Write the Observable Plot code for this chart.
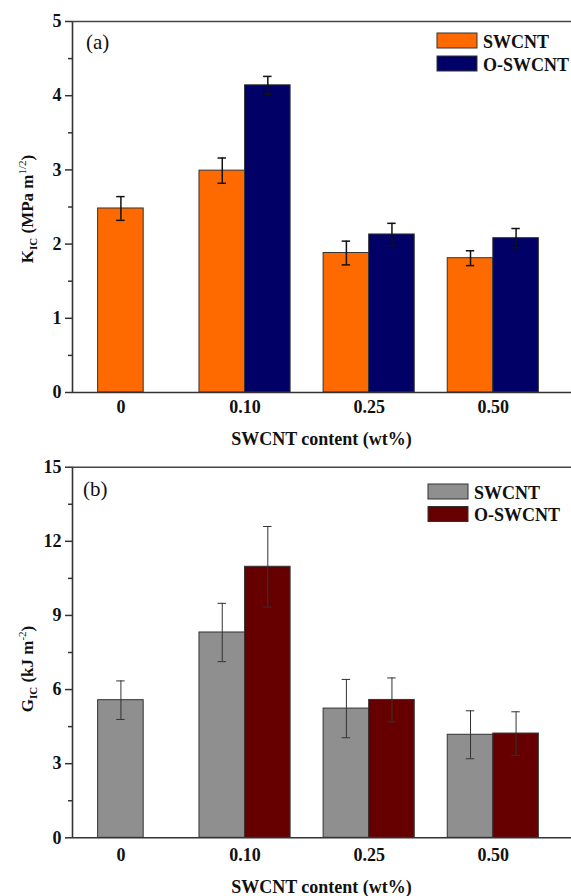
<!DOCTYPE html>
<html>
<head>
<meta charset="utf-8">
<script src="https://cdn.jsdelivr.net/npm/d3@7"></script>
<script src="https://cdn.jsdelivr.net/npm/@observablehq/plot@0.6"></script>
<style>
  html, body { margin: 0; padding: 0; background: #fff; }
  #chart svg { display: block; }
  #chart svg, #chart svg text { font-family: "Liberation Serif", "Times New Roman", Times, serif !important; }
</style>
</head>
<body>
<div id="chart"></div>
<script>
// ---- data ----
const categories = ["0", "0.10", "0.25", "0.50"];
const seriesNames = ["SWCNT", "O-SWCNT"];

// Panel (a): fracture toughness K_IC (MPa m^1/2)
const kSWCNT = [2.48, 2.99, 1.88, 1.81];
const kSWCNTErr = [0.16, 0.17, 0.16, 0.10];
const kOSWCNT = [null, 4.14, 2.13, 2.08];
const kOSWCNTErr = [null, 0.12, 0.15, 0.13];

// Panel (b): fracture energy G_IC (kJ m^-2)
const gSWCNT = [5.57, 8.31, 5.23, 4.17];
const gSWCNTErr = [0.78, 1.18, 1.18, 0.97];
const gOSWCNT = [null, 10.97, 5.58, 4.22];
const gOSWCNTErr = [null, 1.63, 0.89, 0.88];

const kTicks = [0, 1, 2, 3, 4, 5];
const gTicks = [0, 3, 6, 9, 12, 15];

const colorsA = ["#ff6a00", "#000066"];
const colorsB = ["#8f8f8f", "#660000"];

// ---- layout ----
const W = 571;
const xDomain = [-0.39, 3.63];
const barW = 0.367;     // bar width in category-index units
const capW = 0.034;     // half cap width in index units
const FONT = '"Liberation Serif", "Times New Roman", Times, serif';

function rows(sw, swErr, os, osErr) {
  const out = [];
  categories.forEach((c, i) => {
    const both = os[i] != null;
    if (both) {
      out.push({cat: c, s: seriesNames[0], v: sw[i], e: swErr[i], x1: i - barW, x2: i});
      out.push({cat: c, s: seriesNames[1], v: os[i], e: osErr[i], x1: i, x2: i + barW});
    } else {
      out.push({cat: c, s: seriesNames[0], v: sw[i], e: swErr[i], x1: i - barW / 2, x2: i + barW / 2});
    }
  });
  out.forEach(d => { d.xc = (d.x1 + d.x2) / 2; d.lo = d.v - d.e; d.hi = d.v + d.e; });
  return out;
}

function panel({data, colors, ticks, height, marginTop, marginBottom, errStroke, errWidth, xPad,
                tag, tagX, tagY, legX, legY, legGap, yLabel, yLabelY, xTitleY}) {
  const yMax = ticks[ticks.length - 1];
  const step = ticks[1] - ticks[0];
  const minor = ticks.slice(0, -1).map(t => t + step / 2);
  const svg = Plot.plot({
    width: W, height, marginLeft: 72, marginRight: 0, marginTop, marginBottom,
    style: {fontFamily: FONT, fontSize: "18px", fontWeight: "bold", background: "#fff", color: "#111"},
    x: {domain: xDomain},
    y: {domain: [0, yMax]},
    color: {domain: seriesNames, range: colors},
    marks: [
      Plot.rectY(data, {x1: "x1", x2: "x2", y1: 0, y2: "v", fill: "s", stroke: "#333", strokeWidth: 1}),
      Plot.ruleX(data, {x: "xc", y1: "lo", y2: "hi", stroke: errStroke, strokeWidth: errWidth}),
      Plot.ruleY(data, {y: "hi", x1: d => d.xc - capW, x2: d => d.xc + capW, stroke: errStroke, strokeWidth: errWidth}),
      Plot.ruleY(data, {y: "lo", x1: d => d.xc - capW, x2: d => d.xc + capW, stroke: errStroke, strokeWidth: errWidth}),
      Plot.axisY(ticks, {tickSize: 7, tickPadding: 4, tickFormat: d3.format("d"), label: null, stroke: "#333", strokeWidth: 1.5}),
      Plot.axisY(minor, {tickSize: 4, tickFormat: () => "", label: null, stroke: "#333", strokeWidth: 1.5}),
      Plot.axisX(categories.map((c, i) => i), {tickSize: 0, tickPadding: xPad, tickFormat: i => categories[i], label: null}),
      Plot.ruleX([xDomain[0]], {stroke: "#333", strokeWidth: 1.6}),
      Plot.ruleY([0], {stroke: "#333", strokeWidth: 1.6}),
      Plot.ruleY([yMax], {stroke: "#444", strokeWidth: 1.4})
    ]
  });
  const s = d3.select(svg);
  // panel tag
  s.append("text").attr("x", tagX).attr("y", tagY).attr("text-anchor", "start")
    .attr("font-family", FONT).attr("font-size", 21).attr("font-weight", "normal")
    .attr("fill", "#111").text(tag);
  // legend
  const lg = s.append("g").attr("font-family", FONT).attr("font-size", 18).attr("font-weight", "bold")
    .attr("text-anchor", "start");
  seriesNames.forEach((n, k) => {
    lg.append("rect").attr("x", legX).attr("y", legY + k * legGap).attr("width", 40).attr("height", 15)
      .attr("fill", colors[k]).attr("stroke", "#333").attr("stroke-width", 1);
    lg.append("text").attr("x", legX + 46).attr("y", legY + k * legGap + 14.5).attr("fill", "#111").text(n);
  });
  // x title
  s.append("text").attr("x", 72 + (W - 72) / 2).attr("y", xTitleY).attr("text-anchor", "middle")
    .attr("font-family", FONT).attr("font-size", 18).attr("font-weight", "bold").attr("fill", "#111")
    .text("SWCNT content (wt%)");
  // y title with sub/superscripts
  const yt = s.append("text").attr("transform", `translate(33,${yLabelY}) rotate(-90)`)
    .attr("text-anchor", "middle").attr("font-family", FONT).attr("font-size", 17)
    .attr("font-weight", "bold").attr("fill", "#111");
  yt.append("tspan").text(yLabel[0]);
  yt.append("tspan").attr("font-size", 11).attr("dy", 4).text("IC");
  yt.append("tspan").attr("dy", -4).text(" " + yLabel[1]);
  yt.append("tspan").attr("font-size", 11).attr("dy", -7).attr("font-weight", "normal").text(yLabel[2]);
  yt.append("tspan").attr("dy", 7).text(")");
  return svg;
}

const chart = document.getElementById("chart");
chart.appendChild(panel({
  data: rows(kSWCNT, kSWCNTErr, kOSWCNT, kOSWCNTErr), colors: colorsA, ticks: kTicks,
  height: 452, marginTop: 21, marginBottom: 60, errStroke: "#111", errWidth: 1.5, xPad: 8,
  tag: "(a)", tagX: 86, tagY: 49, legX: 437, legY: 33, legGap: 23,
  yLabel: ["K", "(MPa m", "1/2"], yLabelY: 209, xTitleY: 445
}));
chart.appendChild(panel({
  data: rows(gSWCNT, gSWCNTErr, gOSWCNT, gOSWCNTErr), colors: colorsB, ticks: gTicks,
  height: 444, marginTop: 14.7, marginBottom: 58.7, errStroke: "#333", errWidth: 1, xPad: 10,
  tag: "(b)", tagX: 83, tagY: 44, legX: 428, legY: 32, legGap: 22.5,
  yLabel: ["G", "(kJ m", "-2"], yLabelY: 217, xTitleY: 441
}));
</script>
</body>
</html>
